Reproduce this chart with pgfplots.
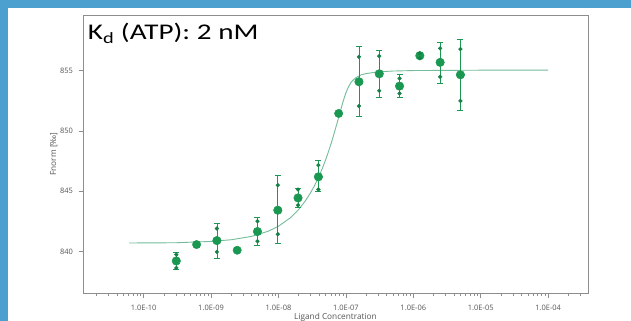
\documentclass[border=0pt]{standalone}
\usepackage{pgfplots}
\pgfplotsset{compat=1.18}
\usepackage{pgfplotstable}
\usepackage{fontspec}
\setmainfont{Open Sans}
\newfontfamily\calibri{Carlito}
\definecolor{bgblue}{HTML}{4BA0CF}
\definecolor{ptgreen}{HTML}{1A9852}
\definecolor{fitgreen}{HTML}{74BC9A}
\definecolor{boxgray}{HTML}{8E8E8E}
\definecolor{tickgray}{HTML}{555555}

% concentration (M), Fnorm, error plus, error minus
\pgfplotstableread{
x y ep em
3.05e-10 839.22 0.75 0.69
1.22e-9 840.91 1.42 1.44
4.88e-9 841.66 1.16 1.16
9.77e-9 843.43 2.91 2.77
1.95e-8 844.45 0.78 0.75
3.91e-8 846.20 1.38 1.20
1.5625e-7 854.09 2.95 2.85
3.125e-7 854.75 1.91 1.96
6.25e-7 853.73 0.97 0.89
1.25e-6 856.25 0.25 0.25
2.5e-6 855.70 1.66 1.75
5e-6 854.67 2.93 2.99
}\witherr

\pgfplotstableread{
x y
6.10e-10 840.58
2.44e-9 840.11
7.81e-8 851.46
}\noerr

\pgfplotstableread{
x y
3.05e-10 839.75
3.05e-10 838.64
1.22e-9 841.91
1.22e-9 839.97
4.88e-9 842.52
4.88e-9 840.86
9.77e-9 845.51
9.77e-9 841.44
1.95e-8 845.15
1.95e-8 843.85
3.91e-8 847.17
3.91e-8 845.15
1.5625e-7 856.16
1.5625e-7 852.07
3.125e-7 856.22
3.125e-7 853.34
6.25e-7 854.37
6.25e-7 853.12
1.25e-6 856.45
1.25e-6 856.05
2.5e-6 856.86
2.5e-6 854.50
5e-6 856.80
5e-6 852.50
}\reps

\pgfplotstableread{
x y
6.1e-11 840.71
3e-10 840.73
1e-9 840.84
2e-9 840.98
4e-9 841.26
7e-9 841.68
1e-8 842.10
1.5e-8 842.80
2e-8 843.50
2.5e-8 844.20
3e-8 844.89
3.5e-8 845.57
4e-8 846.26
4.5e-8 846.94
5e-8 847.61
5.5e-8 848.27
6e-8 848.92
6.5e-8 849.56
7e-8 850.19
7.5e-8 850.78
8e-8 851.35
8.5e-8 851.88
9e-8 852.37
9.5e-8 852.79
1e-7 853.16
1.1e-7 853.71
1.2e-7 854.06
1.4e-7 854.43
1.7e-7 854.67
2e-7 854.77
3e-7 854.91
5e-7 854.98
1e-6 855.02
1e-5 855.05
1e-4 855.05
}\fit

\begin{document}
\begin{tikzpicture}
\fill[bgblue] (0,0) rectangle (631bp,321bp);
\fill[white] (8bp,0) rectangle (631bp,313bp);
\begin{axis}[
  at={(83bp,28bp)}, anchor=south west,
  width=505bp, height=278bp, scale only axis,
  xmode=log, log basis x=10,
  xmin=1.26e-11, xmax=3.9e-4,
  ymin=836.56, ymax=859.63,
  xtick={1e-10,1e-9,1e-8,1e-7,1e-6,1e-5,1e-4},
  xticklabels={1.0E-10,1.0E-09,1.0E-08,1.0E-07,1.0E-06,1.0E-05,1.0E-04},
  minor xtick={2e-11,3e-11,4e-11,5e-11,6e-11,7e-11,8e-11,9e-11,
    2e-10,3e-10,4e-10,5e-10,6e-10,7e-10,8e-10,9e-10,
    2e-9,3e-9,4e-9,5e-9,6e-9,7e-9,8e-9,9e-9,
    2e-8,3e-8,4e-8,5e-8,6e-8,7e-8,8e-8,9e-8,
    2e-7,3e-7,4e-7,5e-7,6e-7,7e-7,8e-7,9e-7,
    2e-6,3e-6,4e-6,5e-6,6e-6,7e-6,8e-6,9e-6,
    2e-5,3e-5,4e-5,5e-5,6e-5,7e-5,8e-5,9e-5,
    2e-4,3e-4},
  ytick={840,845,850,855},
  /pgf/number format/assume math mode=true,
  tick align=outside, tick pos=left,
  major tick length=4.5bp, minor tick length=2.5bp,
  axis line style={draw=boxgray, line width=0.8bp},
  every tick/.style={boxgray, line width=0.6bp},
  ticklabel style={font=\fontsize{7.5}{8}\selectfont, text=tickgray},
  xticklabel style={yshift=-4bp},
  yticklabel style={xshift=-2bp},
  clip=false,
]
\addplot[fitgreen, line width=0.9bp, no marks] table[x=x,y=y] {\fit};
\addplot[ptgreen, line width=0.6bp, only marks, mark=*, mark size=4.2bp,
  mark options={fill=ptgreen, draw=ptgreen},
  error bars/.cd, y dir=both, y explicit,
  error mark options={ptgreen, line width=0.6bp, mark size=3bp, rotate=90},
  error bar style={ptgreen, line width=0.6bp}]
  table[x=x,y=y,y error plus=ep,y error minus=em] {\witherr};
\addplot[only marks, mark=*, mark size=4.2bp, mark options={fill=ptgreen, draw=ptgreen}]
  table[x=x,y=y] {\noerr};
\addplot[only marks, mark=*, mark size=1.9bp, mark options={fill=ptgreen!85!black, draw=ptgreen!85!black}]
  table[x=x,y=y] {\reps};
\node[anchor=base west, inner sep=0pt, xshift=4.7bp, yshift=-24.3bp] at (rel axis cs:0,1)
  {\scalebox{1.3}[1]{\calibri\fontsize{22.5}{24}\selectfont K\textsubscript{d} (ATP): 2 nM}};
\node[anchor=base, inner sep=0pt, yshift=-26bp, text=tickgray] at (rel axis cs:0.5,0)
  {\fontsize{8.3}{9}\selectfont Ligand Concentration};
\end{axis}
\node[anchor=base, rotate=90, inner sep=0pt, text=tickgray] at (56bp,167bp)
  {\fontsize{8.3}{9}\selectfont Fnorm [‰]};
\pgfresetboundingbox
\useasboundingbox (0,0) rectangle (631bp,321bp);
\end{tikzpicture}
\end{document}
